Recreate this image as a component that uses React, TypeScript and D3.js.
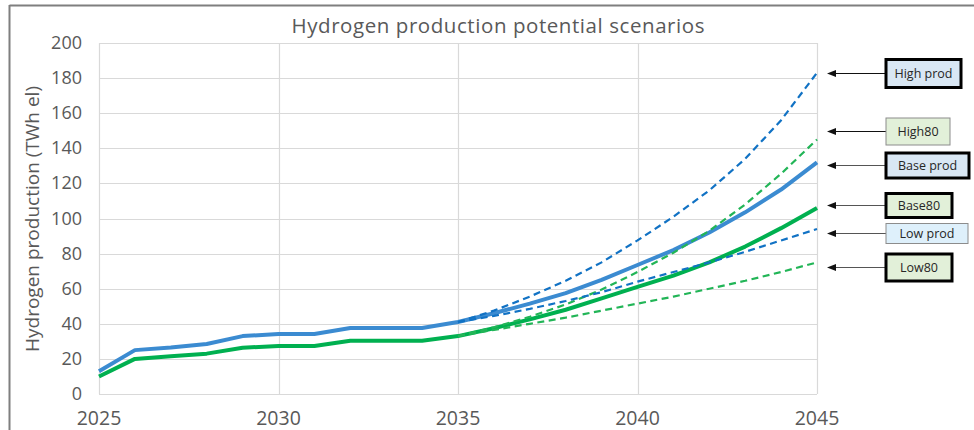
import * as d3 from "d3";

const YEARS = [
  2025, 2026, 2027, 2028, 2029, 2030, 2031, 2032, 2033, 2034, 2035,
  2036, 2037, 2038, 2039, 2040, 2041, 2042, 2043, 2044, 2045,
];
const PROJ_YEARS = [2035, 2036, 2037, 2038, 2039, 2040, 2041, 2042, 2043, 2044, 2045];

// solid lines (history + base projection)
const BASE_PROD = [13, 25, 26.5, 28.5, 33, 34.2, 34.2, 37.6, 37.6, 37.6, 41, 46, 51.5, 57.5, 65, 73.5, 82, 92, 103.5, 116.5, 132];
const BASE_80 = [10, 20, 21.5, 23, 26.4, 27.3, 27.3, 30.4, 30.4, 30.4, 33, 37.5, 42.5, 48, 54.5, 61, 67.5, 75, 84, 94.5, 106];

// dashed scenario lines (from 2035)
const HIGH_PROD = [41, 47.5, 55.5, 64.5, 75, 87.5, 101, 116, 134, 156, 183];
const LOW_PROD = [41, 44.5, 48.5, 53, 58, 64, 69.5, 75, 81, 87.5, 94];
const HIGH_80 = [33, 38, 44, 51, 59.5, 69.5, 80.5, 93, 108, 125.5, 145];
const LOW_80 = [33, 36.5, 40, 43.5, 47.5, 51.5, 55.5, 60, 64.5, 69.5, 75];

const Y_TICKS = [0, 20, 40, 60, 80, 100, 120, 140, 160, 180, 200];
const X_TICKS = [2025, 2030, 2035, 2040, 2045];

// annotation labels on the right and the value each arrow points at
const NOTE_LABELS = ["High prod", "High80", "Base prod", "Base80", "Low prod", "Low80"];
const NOTE_VALUES = [183, 150, 130.5, 107.5, 92, 72.5];

export default function App() {
  const width = 974;
  const height = 430;
  const plot = { left: 99, right: 817, top: 43, bottom: 394 };
  const font = "'Open Sans', 'DejaVu Sans', sans-serif";
  const textColor = "#595959";

  const x = d3.scaleLinear().domain([2025, 2045]).range([plot.left, plot.right]);
  const y = d3.scaleLinear().domain([0, 200]).range([plot.bottom, plot.top]);

  const line = d3
    .line<[number, number]>()
    .x((d) => x(d[0]))
    .y((d) => y(d[1]));

  const full = (vals: number[]) => line(YEARS.map((yr, i) => [yr, vals[i]]));
  const proj = (vals: number[]) => line(PROJ_YEARS.map((yr, i) => [yr, vals[i]]));

  const blueSolid = "#3b8bd1";
  const blueDash = "#1172c4";
  const green = "#00b050";
  const greenDash = "#22b557";

  // box styles for the annotations (layout, not data)
  const noteBoxes = [
    { w: 75, h: 28, thick: true, fill: "#d9e7f4" },
    { w: 64, h: 27, thick: false, fill: "#e2f0d9" },
    { w: 83, h: 25, thick: true, fill: "#d9e7f4" },
    { w: 66, h: 24, thick: true, fill: "#e2f0d9" },
    { w: 82, h: 20, thick: false, fill: "#def0fb" },
    { w: 66, h: 27, thick: true, fill: "#e2f0d9" },
  ];

  return (
    <div style={{ position: "absolute", left: 0, top: 0 }}>
      <svg width={width} height={height} style={{ display: "block", background: "#fff" }}>
        {/* outer frame */}
        <line x1={9.5} x2={9.5} y1={5} y2={height} stroke="#7f7f7f" strokeWidth={2} />
        <line x1={9.5} x2={width} y1={5.5} y2={5.5} stroke="#7f7f7f" strokeWidth={2} />

        {/* title */}
        <text
          x={498}
          y={33}
          textAnchor="middle"
          fontFamily={font}
          fontSize={20.5}
          fill={textColor}
          textLength={413}
          lengthAdjust="spacing"
        >
          Hydrogen production potential scenarios
        </text>

        {/* gridlines */}
        {Y_TICKS.map((t) => (
          <line
            key={"gy" + t}
            x1={plot.left}
            x2={plot.right}
            y1={Math.round(y(t)) + 0.5}
            y2={Math.round(y(t)) + 0.5}
            stroke="#d9d9d9"
            strokeWidth={1.2}
          />
        ))}
        {X_TICKS.map((t) => (
          <line
            key={"gx" + t}
            x1={Math.round(x(t)) + 0.5}
            x2={Math.round(x(t)) + 0.5}
            y1={plot.top}
            y2={plot.bottom}
            stroke="#d9d9d9"
            strokeWidth={1.2}
          />
        ))}

        {/* y tick labels */}
        {Y_TICKS.map((t) => (
          <text
            key={"ty" + t}
            x={82}
            y={y(t) + 6}
            textAnchor="end"
            fontFamily={font}
            fontSize={18}
            fill={textColor}
          >
            {t}
          </text>
        ))}

        {/* x tick labels */}
        {X_TICKS.map((t) => (
          <text
            key={"tx" + t}
            x={x(t)}
            y={425}
            textAnchor="middle"
            fontFamily={font}
            fontSize={19.5}
            fill={textColor}
          >
            {t}
          </text>
        ))}

        {/* y axis title */}
        <text
          transform={`translate(39,219) rotate(-90)`}
          textAnchor="middle"
          fontFamily={font}
          fontSize={19}
          fill={textColor}
        >
          Hydrogen production (TWh el)
        </text>

        {/* solid lines */}
        <path d={full(BASE_80) ?? ""} fill="none" stroke={green} strokeWidth={4} strokeLinejoin="round" />
        <path d={full(BASE_PROD) ?? ""} fill="none" stroke={blueSolid} strokeWidth={4} strokeLinejoin="round" />

        {/* dashed scenarios */}
        <path d={proj(LOW_80) ?? ""} fill="none" stroke={greenDash} strokeWidth={2.2} strokeDasharray="7,4.5" />
        <path d={proj(HIGH_80) ?? ""} fill="none" stroke={greenDash} strokeWidth={2.2} strokeDasharray="7,4.5" />
        <path d={proj(LOW_PROD) ?? ""} fill="none" stroke={blueDash} strokeWidth={2.2} strokeDasharray="7,4.5" />
        <path d={proj(HIGH_PROD) ?? ""} fill="none" stroke={blueDash} strokeWidth={2.2} strokeDasharray="7,4.5" />

        {/* annotations */}
        {NOTE_LABELS.map((label, i) => {
          const cy = Math.round(y(NOTE_VALUES[i])) + 0.5;
          const b = noteBoxes[i];
          const bx = 886;
          const stroke = i < 2 ? "#111" : "#555";
          return (
            <g key={label}>
              <line x1={834} x2={bx} y1={cy} y2={cy} stroke={stroke} strokeWidth={1.2} />
              <path d={`M827,${cy} L836,${cy - 3.5} L836,${cy + 3.5} Z`} fill="#111" />
              <rect
                x={bx}
                y={cy - b.h / 2}
                width={b.w}
                height={b.h}
                fill={b.fill}
                stroke={b.thick ? "#000" : "#8c8c8c"}
                strokeWidth={b.thick ? 3 : 1}
              />
              <text
                x={bx + b.w / 2}
                y={cy + 4.5}
                textAnchor="middle"
                fontFamily={font}
                fontSize={12.5}
                fill="#262626"
              >
                {label}
              </text>
            </g>
          );
        })}
      </svg>
    </div>
  );
}
